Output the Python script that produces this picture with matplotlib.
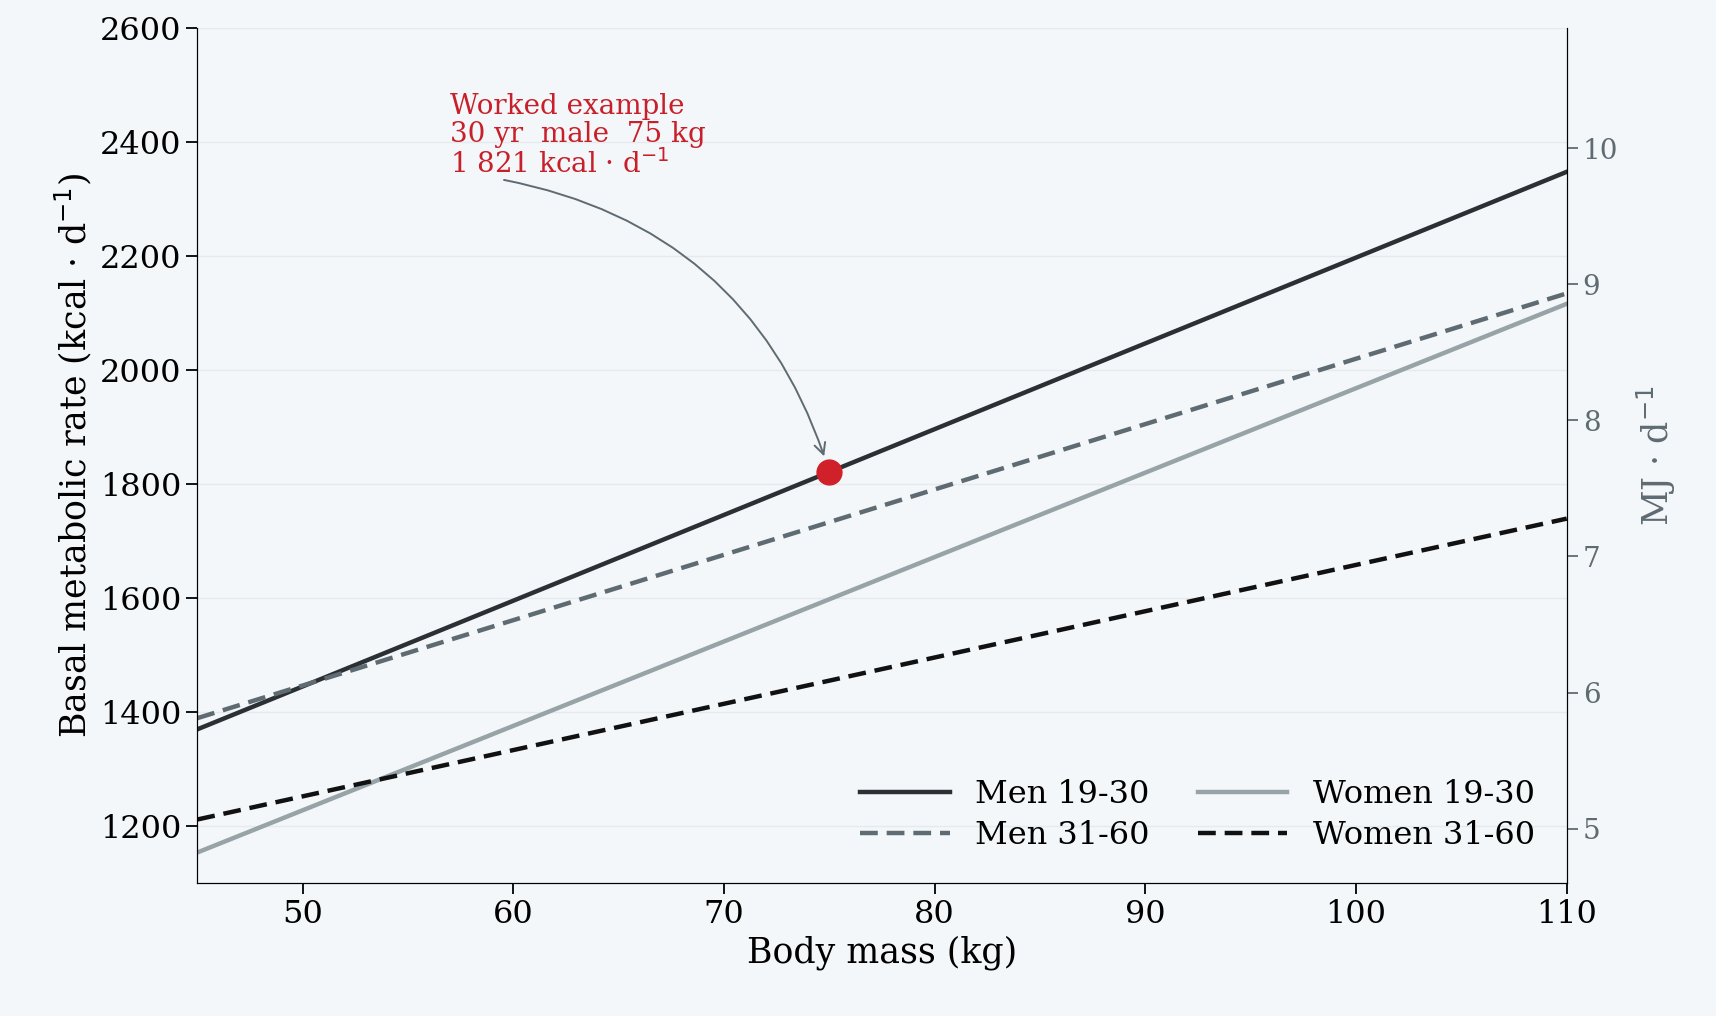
import matplotlib
matplotlib.use("Agg")
import matplotlib.pyplot as plt

mass = [45, 110]
men_19_30 = [1369.6, 2348.3]
men_31_60 = [1389.2, 2134.9]
women_19_30 = [1153.4, 2116.6]
women_31_60 = [1211.3, 1739.5]
ex_mass, ex_bmr = 75, 1821

plt.rcParams['font.family'] = ['DejaVu Serif']
bg = '#f4f7f9'
fig = plt.figure(figsize=(17.16, 10.16), dpi=100, facecolor=bg)
ax = fig.add_axes([0.115, 0.131, 0.798, 0.841], facecolor=bg)
ax.plot(mass, men_19_30, color='#2b3035', lw=3.2, label='Men 19-30')
ax.plot(mass, men_31_60, color='#5f6b72', lw=3.2, ls=(0, (4, 2)), label='Men 31-60')
ax.plot(mass, women_19_30, color='#98a3a8', lw=3.2, label='Women 19-30')
ax.plot(mass, women_31_60, color='#111111', lw=3.2, ls=(0, (4, 2)), label='Women 31-60')
ax.scatter([ex_mass], [ex_bmr], s=320, color='#d0202a', zorder=5)
ax.annotate('Worked example\n30 yr  male  75 kg\n1 821 kcal · d$^{-1}$',
            xy=(ex_mass, ex_bmr), xytext=(57, 2335), color='#c8202a', fontsize=20,
            ha='left', va='bottom', linespacing=1.05,
            arrowprops=dict(arrowstyle='->', color='#5f6b72', lw=1.4,
                            connectionstyle='arc3,rad=-0.3', shrinkA=2, shrinkB=12,
                            patchA=None, relpos=(0.2, 0.0)))
ax.set_xlim(45, 110)
ax.set_ylim(1100, 2600)
ax.set_yticks(range(1200, 2601, 200))
ax.set_xticks(range(50, 111, 10))
ax.grid(axis='y', color='#e6eaed', lw=1)
ax.set_axisbelow(True)
ax.spines['top'].set_visible(False)
ax.tick_params(labelsize=23, length=8, width=1.3)
ax.set_xlabel('Body mass (kg)', fontsize=25)
ax.set_ylabel('Basal metabolic rate (kcal · d$^{-1}$)', fontsize=25)
ax2 = ax.twinx()
ax2.set_ylim(1100 * 0.004184, 2600 * 0.004184)
ax2.set_yticks([5, 6, 7, 8, 9, 10])
ax2.spines['top'].set_visible(False)
ax2.tick_params(labelsize=20, length=8, width=1.3, colors='#5f6b72')
ax2.set_ylabel('MJ · d$^{-1}$', fontsize=25, color='#5f6b72', labelpad=12)
ax.legend(loc='lower right', ncol=2, frameon=False, fontsize=23, handlelength=2.8,
          columnspacing=1.5, borderaxespad=0.6, labelspacing=0.3)
fig.savefig('out.png', dpi=100, facecolor=bg)
